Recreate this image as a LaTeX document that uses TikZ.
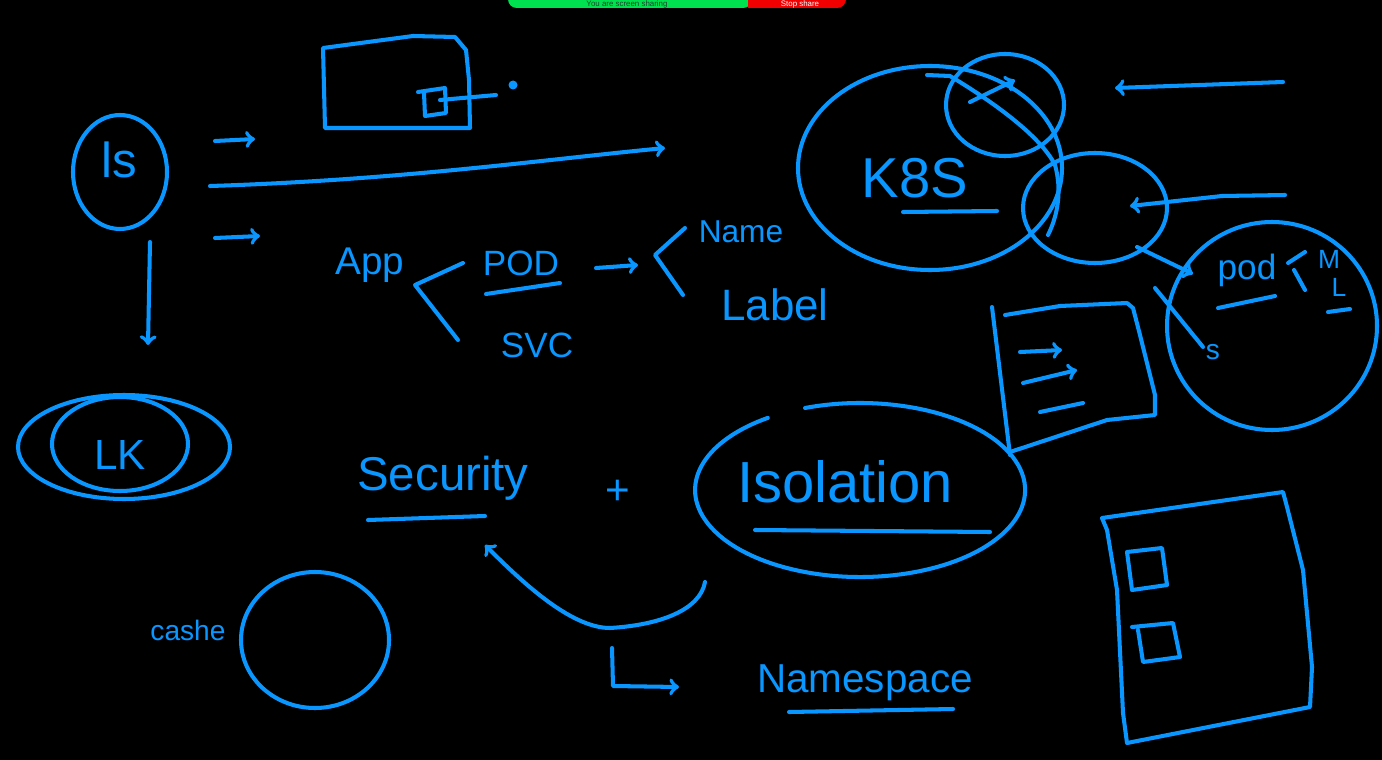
\documentclass[tikz,border=0pt]{standalone}
\usepackage{fontspec}
\setmainfont{Liberation Sans}
\usetikzlibrary{arrows, positioning}
\definecolor{penblue}{RGB}{10,150,255}
\definecolor{sharegreen}{RGB}{0,225,80}
\definecolor{sharered}{RGB}{240,0,0}
\definecolor{sharedark}{RGB}{20,70,40}
\tikzset{
  pen/.style = {draw=penblue, line width=2.3pt, line cap=round,
    line join=round},% blue marker stroke
  pen_arrow/.style = {pen, -to},
  ink/.style = {text=penblue, inner sep=0pt,
    font=\fontsize{#1}{#1}\selectfont},% handwritten word
  bar_text/.style = {anchor=base, inner sep=0pt,
    font=\fontsize{4.5}{4.5}\selectfont}
}

\begin{document}
\begin{tikzpicture}[x=0.02cm, y=-0.02cm]
\fill[black] (0,0) rectangle (1382,760);
\useasboundingbox (0,0) rectangle (1382,760);

% screen sharing bar
\fill[sharegreen, rounded corners=5pt] (508,-30) rectangle (752,8);
\fill[sharered, rounded corners=5pt] (748,-30) rectangle (846,8);
\fill[sharered] (748,-30) rectangle (760,8);
\node (sharing) [bar_text, text=sharedark] at (627,6.5) {You are screen sharing};
\node (stopshare) [bar_text, text=white] at (800,6.5) {Stop share};

% ls and its arrows
\draw[pen] (120,172) ellipse [x radius=47, y radius=57];
\node (ls) [ink=28] at (119,160) {ls};
\coordinate (ls_r1) at (215,141); \coordinate (ls_r1e) at (255,139);
\coordinate (ls_r2) at (210,186); \coordinate (ls_r2e) at (665,148);
\coordinate (ls_r3) at (215,238); \coordinate (ls_r3e) at (260,236);
\coordinate (ls_d) at (150,242); \coordinate (ls_de) at (148,345);
\draw[pen_arrow] (ls_r1) -- (ls_r1e);
\draw[pen_arrow] (ls_r2) .. controls (400,180) and (540,160) .. (ls_r2e);
\draw[pen_arrow] (ls_r3) -- (ls_r3e);
\draw[pen_arrow] (ls_d) -- (ls_de);

% LK
\draw[pen] (124,447) ellipse [x radius=106, y radius=52];
\draw[pen] (120,444) ellipse [x radius=68, y radius=47];
\node (lk) [ink=24] at (120,455) {LK};

% cashe
\node (cashe) [ink=16] at (188,630) {cashe};
\draw[pen] (315,640) ellipse [x radius=74, y radius=68];

% top box
\draw[pen] (323,48) -- (413,36) -- (455,37) -- (466,50) -- (469,80)
  -- (470,128) -- (325,128) -- cycle;
\draw[pen] (418,92) -- (445,88) -- (446,113) -- (425,116) -- (424,93);
\coordinate (box_port) at (440,100); \coordinate (box_wire) at (496,95);
\draw[pen] (box_port) -- (box_wire);
\fill[penblue] (513,85) circle [radius=4.5];

% App -> POD / SVC
\node (app) [ink=22] at (370,265) {App};
\node (pod) [ink=20] at (521,263) {POD};
\node (svc) [ink=20] at (537,345) {SVC};
\draw[pen] (463,263) -- (415,285) -- (458,340);
\draw[pen] (486,294) -- (560,283);
\coordinate (pod_a) at (596,268); \coordinate (pod_ae) at (638,265);
\draw[pen_arrow] (pod_a) -- (pod_ae);
\draw[pen] (685,228) -- (655,255) -- (683,295);
\node (name) [ink=18] at (741,232) {Name};
\node (label) [ink=25] at (775,305) {Label};

% K8S cluster
\draw[pen] (930,168) ellipse [x radius=132, y radius=102];
\draw[pen] (1005,105) ellipse [x radius=59, y radius=51];
\draw[pen] (1095,208) ellipse [x radius=72, y radius=55];
\node (k8s) [ink=32] at (915,178) {K8S};
\draw[pen] (903,212) -- (997,211);
\draw[pen] (927,75) -- (950,76) .. controls (990,100) and (1040,135) .. (1055,165)
  .. controls (1062,190) and (1058,215) .. (1048,235);
\coordinate (up_a) at (970,102); \coordinate (up_ae) at (1015,80);
\draw[pen_arrow] (up_a) -- (up_ae);
\coordinate (in_top) at (1283,82); \coordinate (in_tope) at (1115,88);
\draw[pen_arrow] (in_top) -- (in_tope);
\coordinate (in_low) at (1285,195); \coordinate (in_lowe) at (1130,206);
\draw[pen_arrow] (in_low) -- (1222,196) -- (in_lowe);

% pod
\draw[pen] (1272,326) ellipse [x radius=105, y radius=104];
\node (pod_r) [ink=20] at (1247,270) {pod};
\draw[pen] (1218,308) -- (1275,296);
\draw[pen] (1305,252) -- (1288,263);
\draw[pen] (1294,270) -- (1305,290);
\node (pod_m) [ink=15] at (1329,259) {M};
\node (pod_l) [ink=15] at (1339,287) {L};
\draw[pen] (1328,312) -- (1350,309);
\coordinate (svc_l) at (1137,247); \coordinate (svc_le) at (1193,274);
\draw[pen_arrow] (svc_l) -- (svc_le);
\coordinate (cut_a) at (1155,288); \coordinate (cut_b) at (1203,347);
\draw[pen] (cut_a) -- (cut_b);
\node (cut_s) [ink=16] at (1213,352) {s};

% small document
\draw[pen] (992,307) -- (1010,455);
\draw[pen] (1005,315) -- (1060,306) -- (1127,303) -- (1133,308) -- (1140,335)
  -- (1155,395) -- (1155,415) -- (1107,420) -- (1010,452);
\coordinate (doc_a1) at (1020,352); \coordinate (doc_a1e) at (1062,350);
\coordinate (doc_a2) at (1023,383); \coordinate (doc_a2e) at (1077,370);
\draw[pen_arrow] (doc_a1) -- (doc_a1e);
\draw[pen_arrow] (doc_a2) -- (doc_a2e);
\draw[pen] (1040,412) -- (1083,403);

% Security + Isolation
\node (security) [ink=27] at (443,478) {Security};
\draw[pen] (368,520) -- (485,516);
\node (plus) [ink=24] at (618,492) {+};
\draw[pen] (805,408) arc [start angle=-109.5, end angle=236,
  x radius=165, y radius=87];
\node (isolation) [ink=33] at (845,482) {Isolation};
\draw[pen] (755,530) -- (990,532);
\coordinate (iso_back) at (705,582); \coordinate (sec_back) at (485,545);
\draw[pen_arrow] (iso_back) .. controls (700,610) and (660,625) .. (610,628)
  .. controls (570,628) and (520,580) .. (sec_back);

% Namespace
\coordinate (ns_a) at (612,648); \coordinate (ns_ae) at (679,687);
\draw[pen_arrow] (ns_a) -- (613,686) -- (ns_ae);
\node (namespace) [ink=23] at (865,683) {Namespace};
\draw[pen] (789,712) -- (953,709);

% big document
\draw[pen] (1102,518) -- (1283,492) -- (1287,507) -- (1303,570) -- (1312,667)
  -- (1310,707) -- (1127,743) -- (1123,713) -- (1117,590) -- (1107,530) -- cycle;
\draw[pen] (1127,552) -- (1162,548) -- (1167,585) -- (1132,590) -- cycle;
\draw[pen] (1132,627) -- (1173,623) -- (1180,657) -- (1143,662) -- (1138,630);
\end{tikzpicture}
\end{document}
